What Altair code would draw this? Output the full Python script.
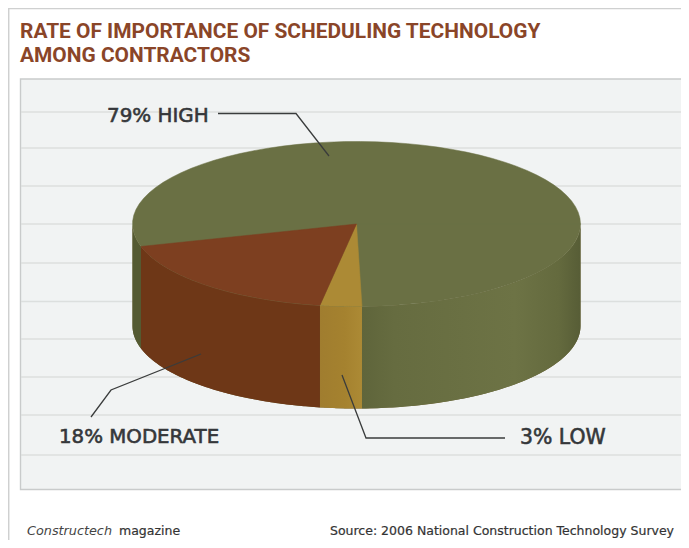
import numpy as np
import pandas as pd
import altair as alt

# --- data
categories = ["Low", "Moderate", "High"]
shares = [3, 18, 79]
title_lines = ["RATE OF IMPORTANCE OF SCHEDULING TECHNOLOGY", "AMONG CONTRACTORS"]
labels = ["79% HIGH", "18% MODERATE", "3% LOW"]
source = "Source: 2006 National Construction Technology Survey"
grid_rows_page = [112, 148, 186, 224, 263, 301.5, 339, 377, 415, 455]

# --- pie geometry
W, H = 673, 532
CX, CY = 356.5, 224.0      # page position of the pie centre
RX, RY, DEPTH = 224.0, 82.5, 102.0
START = 88.6               # degrees, clockwise from 3 o'clock on screen

xs = alt.Scale(domain=[8 - CX, 8 + W - CX], range=[0, W], nice=False, zero=False)
ys = alt.Scale(domain=[CY - 8 - H, CY - 8], range=[H, 0], nice=False, zero=False)
X = alt.X("x:Q", scale=xs, axis=None)
Y = alt.Y("y:Q", scale=ys, axis=None)
Y2 = alt.Y2("y2:Q")


def arc_pts(a, b, n=90):
    t = np.radians(np.linspace(a, b, n))
    return RX * np.cos(t), -RY * np.sin(t)


def top_sector(a, b, color):
    x, y = arc_pts(a, b)
    x = np.r_[0, x, 0]
    y = np.r_[0, y, 0]
    df = pd.DataFrame({"x": x, "y": y, "i": range(len(x))})
    return alt.Chart(df).mark_line(fill=color, stroke=color, strokeWidth=0.5, interpolate="linear").encode(
        x=X, y=Y, order=alt.Order("i:Q"))


def side(a, b, fill):
    x, y = arc_pts(a, b)
    df = pd.DataFrame({"x": x, "y": y, "y2": y - DEPTH})
    return alt.Chart(df).mark_area(color=fill, interpolate="linear").encode(x=X, y=Y, y2=Y2)


def grad(stops):
    return alt.Gradient(gradient="linear", x1=0, x2=1, y1=0, y2=0,
                        stops=[alt.GradientStop(offset=o, color=c) for o, c in stops])


def page_text(t, x, y, size, color, weight="normal", font="DejaVu Sans", style="normal", thicken=0.0):
    kw = {"stroke": color, "strokeWidth": thicken} if thicken else {}
    return alt.Chart(pd.DataFrame({"t": [t]})).mark_text(
        align="left", baseline="alphabetic", x=x - 8, y=y - 8, fontSize=size, color=color,
        fontWeight=weight, font=font, fontStyle=style, **kw).encode(text="t:N")


def page_rule(x1, y1, x2, y2, color, width):
    return alt.Chart(pd.DataFrame({"a": [0]})).mark_rule(stroke=color, strokeWidth=width).encode(
        x=alt.value(x1 - 8), x2=alt.value(x2 - 8), y=alt.value(y1 - 8), y2=alt.value(y2 - 8))


def leader(px, py):
    df = pd.DataFrame({"x": np.array(px) - CX, "y": CY - np.array(py), "i": range(len(px))})
    return alt.Chart(df).mark_line(stroke="#3a3c3c", strokeWidth=1.3).encode(x=X, y=Y, order=alt.Order("i:Q"))


# slice angles follow from the shares
angles = {}
a = START
for c, s in zip(categories, shares):
    angles[c] = (a, a + s * 3.6)
    a += s * 3.6
low, mod, high = angles["Low"], angles["Moderate"], angles["High"]

layers = []
# outer frame
layers.append(page_rule(8, 8.5, 689, 8.5, "#cfd0d0", 1.5))
layers.append(page_rule(8.7, 8, 8.7, 548, "#cfd0d0", 1.5))
# panel
layers.append(alt.Chart(pd.DataFrame({"a": [0]})).mark_rect(fill="#f1f3f3", stroke="#c9cbcb", strokeWidth=1.4).encode(
    x=alt.value(20.5 - 8), x2=alt.value(685 - 8), y=alt.value(79 - 8), y2=alt.value(489.5 - 8)))
for r in grid_rows_page:
    layers.append(page_rule(21, r, 684.5, r, "#dcdfde", 1.3))

# sides, drawn first; the underlay hides the seams between neighbouring faces
layers.append(side(0, 180, "#6a5a2c"))
layers.append(side(0, low[0], grad([(0, "#5f653b"), (0.15, "#666c40"), (0.7, "#6d7345"), (0.9, "#646a3e"), (1, "#575d36")])))
layers.append(side(low[0], low[1], grad([(0, "#a07d2f"), (0.6, "#a5822f"), (1, "#ac8a35")])))
layers.append(side(low[1], mod[1], "#6e3717"))
layers.append(side(mod[1], 180, "#545a32"))

# top
layers.append(top_sector(0, 360, "#6a7044"))
layers.append(top_sector(low[0], low[1], "#ac8a35"))
layers.append(top_sector(mod[0], mod[1], "#7d3f20"))

# leaders
layers.append(leader([218, 296, 329], [113.5, 113.5, 156]))
layers.append(leader([91, 111, 201], [417, 390, 354]))
layers.append(leader([342, 366, 505], [375, 438, 438]))

# texts
tc = "#8a4528"
layers.append(page_text(title_lines[0], 20, 38, 20.9, tc, "bold", font="Roboto"))
layers.append(page_text(title_lines[1], 20, 62, 20.9, tc, "bold", font="Roboto"))
lc = "#35373a"
layers.append(page_text(labels[0], 107, 122, 19.9, lc, thicken=0.6))
layers.append(page_text(labels[1], 59, 443, 19.8, lc, thicken=0.6))
layers.append(page_text(labels[2], 520, 444, 20.4, lc, thicken=0.6))
layers.append(page_text("Constructech", 27, 535, 12.8, "#444", style="italic"))
layers.append(page_text("magazine", 119, 535, 12.5, "#333", thicken=0.2))
layers.append(page_text(source, 330, 535, 12.5, "#333", thicken=0.2))

chart = alt.layer(*layers).properties(width=W, height=H, padding=0, autosize=alt.AutoSizeParams(type="none"),
                                       background="#ffffff").configure_view(stroke=None)
chart.save("out.html", embed_options={"renderer": "svg", "actions": False})
